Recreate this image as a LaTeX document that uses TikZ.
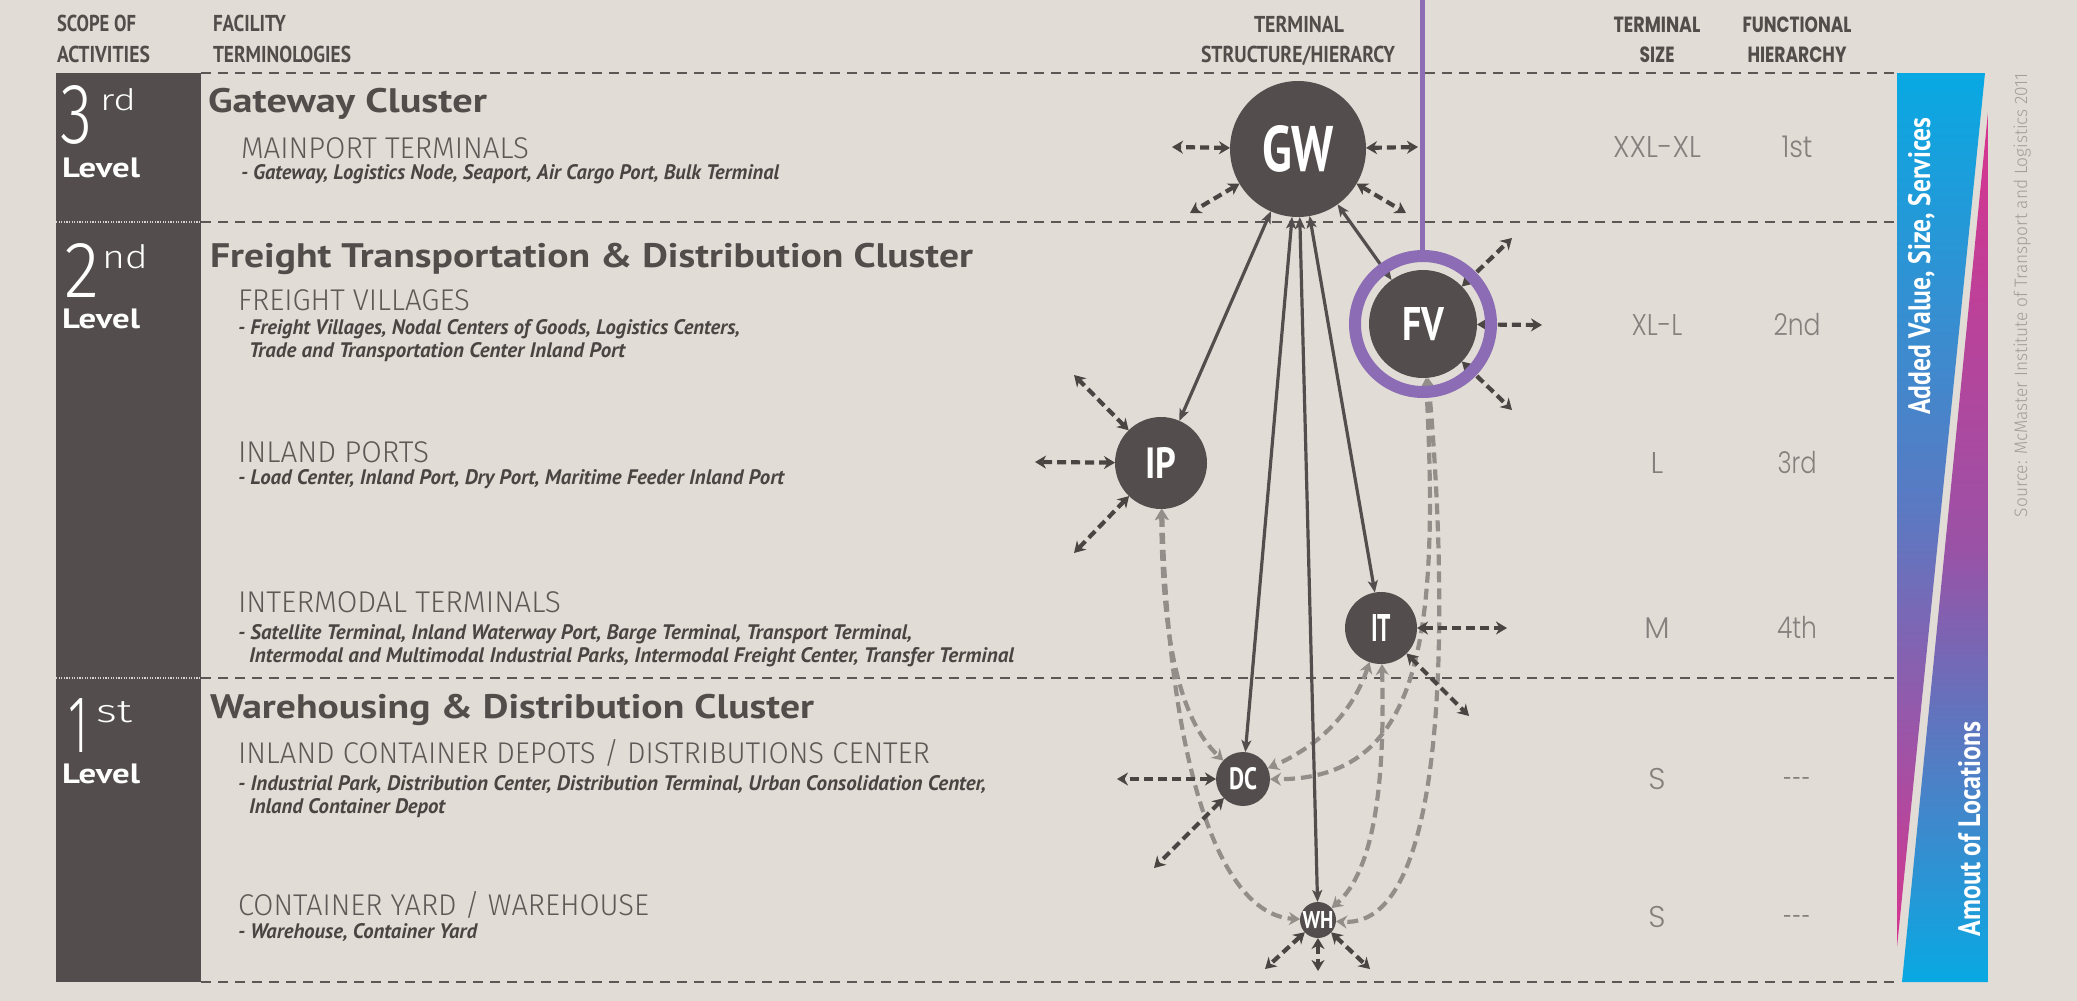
\documentclass[tikz,border=0pt]{standalone}
\usepackage{fontspec}
\usepackage{graphicx}
\setmainfont{PT Sans}
\newfontfamily\geofont{Poppins}
\newfontfamily\geolight{Poppins Light}
\newfontfamily\lightf{Fira Sans Light}
\usetikzlibrary{arrows.meta}
\definecolor{bgc}{HTML}{E1DDD6}
\definecolor{dkc}{HTML}{534E4D}
\definecolor{txc}{HTML}{524D4A}
\definecolor{ltc}{HTML}{5E5956}
\definecolor{itc}{HTML}{4A4542}
\definecolor{grc}{HTML}{938E8A}
\definecolor{colc}{HTML}{85807D}
\definecolor{purc}{HTML}{8C6CB4}
\definecolor{cyc}{HTML}{08A9E3}
\definecolor{midc}{HTML}{5B79C2}
\definecolor{pkc}{HTML}{D8338E}
\definecolor{puc}{HTML}{9A52A6}
\definecolor{rowc}{HTML}{5C5754}
\definecolor{srcc}{HTML}{A29D99}
\newcommand\myfw[2]{\resizebox{#1pt}{\height}{#2}}
\newcommand\mywh[3]{\resizebox{#1pt}{#2pt}{#3}}
\newcommand\myfs[1]{\fontsize{#1}{#1}\selectfont}
\begin{document}
\begin{tikzpicture}[x=1pt,y=-1pt,
  txt/.style={inner sep=0pt,outer sep=0pt},
  hdr/.style={txt,text=txc,font=\myfs{23}\bfseries},
  hdrr/.style={txt,anchor=base,text=txc,font=\geofont\myfs{22}\bfseries},
  ttl/.style={txt,anchor=base west,text=txc,font=\myfs{34}\bfseries},
  subh/.style={txt,anchor=base west,text=ltc,font=\lightf\myfs{30}},
  bul/.style={txt,anchor=base west,text=itc,font=\myfs{21}\bfseries\itshape},
  val/.style={txt,anchor=base,text=colc,font=\geolight\myfs{30}},
  lvl/.style={txt,anchor=base west,text=white,font=\myfs{28}\bfseries},
  num/.style={txt,anchor=base west,text=white,font=\lightf\myfs{40}},
  supx/.style={txt,anchor=base west,text=white,font=\lightf\myfs{24}},
  term/.style={circle,fill=dkc,inner sep=0pt,outer sep=0pt,text=white,font=\myfs{40}\bfseries},
  sarr/.style={draw=dkc,line width=3.2pt,>={Stealth[length=12pt,width=10pt,inset=3pt]},<->},
  darr/.style={draw=itc,line width=4.2pt,dash pattern=on 9pt off 5pt,>={Stealth[length=11pt,width=13pt,inset=3.5pt]},<->},
  garr/.style={draw=grc,line width=4.2pt,dash pattern=on 11pt off 6pt,>={Stealth[length=11pt,width=13pt,inset=3.5pt]},<->},
  rowdash/.style={draw=rowc,line width=2.2pt,dash pattern=on 10pt off 7pt},
  dotsep/.style={draw=white!75!dkc,line width=2.2pt,dash pattern=on 1.2pt off 1.4pt}
]
\fill[bgc] (0,0) rectangle (2077,1001);
\useasboundingbox (0,0) rectangle (2077,1001);

% left dark column
\fill[dkc] (56,73) rectangle (201,982);
\draw[dotsep] (56,222) -- (201,222);
\draw[dotsep] (56,678) -- (201,678);

% row separators
\foreach \yy in {73,222,678,982} \draw[rowdash] (201,\yy) -- (1897,\yy);

% gradient bar
\shade[top color=cyc,bottom color=pkc,middle color=midc] (1897,73) -- (1985,73) -- (1897,947) -- cycle;
\shade[top color=pkc,bottom color=cyc,middle color=puc] (1988,112) -- (1988,982) -- (1902,982) -- cycle;
\node[txt,rotate=90,anchor=base,text=white,font=\myfs{31}\bfseries] (bt1) at (1930,266) {\myfw{297}{Added Value, Size, Services}};
\node[txt,rotate=90,anchor=base,text=white,font=\myfs{31}\bfseries] (bt2) at (1980,829) {\myfw{215}{Amout of Locations}};
\node[txt,rotate=90,anchor=base,text=srcc,font=\lightf\myfs{18}] (src) at (2027,295) {\myfw{444}{Source: McMaster Institute of Transport and Logistics 2011}};

% headers
\node[hdr,anchor=base west] (h1) at (57,31) {\myfw{79}{SCOPE OF}};
\node[hdr,anchor=base west] (h2) at (57,62) {\myfw{93}{ACTIVITIES}};
\node[hdr,anchor=base west] (h3) at (213,31) {\myfw{73}{FACILITY}};
\node[hdr,anchor=base west] (h4) at (213,62) {\myfw{138}{TERMINOLOGIES}};
\node[hdr,anchor=base] (h5) at (1299,32) {\myfw{90}{TERMINAL}};
\node[hdr,anchor=base] (h6) at (1298,62) {\myfw{194}{STRUCTURE/HIERARCY}};
\node[hdrr] (h7) at (1657,32) {\myfw{87}{TERMINAL}};
\node[hdrr] (h8) at (1657,62) {\myfw{35}{SIZE}};
\node[hdrr] (h9) at (1797,32) {\myfw{109}{FUNCTIONAL}};
\node[hdrr] (h10) at (1797,62) {\myfw{99}{HIERARCHY}};

% level labels
\node[num] (n3) at (60,143) {\mywh{32}{58}{3}};
\node[supx] (s3) at (100,110) {\mywh{36}{22}{rd}};
\node[lvl] (l3) at (62,177) {\myfw{78}{Level}};
\node[num] (n2) at (64,297) {\mywh{35}{54}{2}};
\node[supx] (s2) at (102,268) {\mywh{46}{24}{nd}};
\node[lvl] (l2) at (62,328) {\myfw{78}{Level}};
\node[num] (n1) at (68,752) {\mywh{20}{54}{1}};
\node[supx] (s1) at (96,722) {\mywh{36}{21}{st}};
\node[lvl] (l1) at (62,783) {\myfw{78}{Level}};

% cluster titles
\node[ttl] (c1) at (208,112) {\myfw{279}{Gateway Cluster}};
\node[ttl] (c2) at (210,267) {\myfw{763}{Freight Transportation \& Distribution Cluster}};
\node[ttl] (c3) at (210,718) {\myfw{604}{Warehousing \& Distribution Cluster}};

% sub headings
\node[subh] (t1) at (241,158) {\myfw{288}{MAINPORT TERMINALS}};
\node[subh] (t2) at (238,310) {\myfw{232}{FREIGHT VILLAGES}};
\node[subh] (t3) at (238,462) {\myfw{191}{INLAND PORTS}};
\node[subh] (t4) at (238,612) {\myfw{323}{INTERMODAL TERMINALS}};
\node[subh] (t5) at (238,763) {\myfw{692}{INLAND CONTAINER DEPOTS / DISTRIBUTIONS CENTER}};
\node[subh] (t6) at (238,915) {\myfw{411}{CONTAINER YARD / WAREHOUSE}};

% bullet lists
\node[bul] (b1) at (241,179) {\myfw{538}{- Gateway, Logistics Node, Seaport, Air Cargo Port, Bulk Terminal}};
\node[bul] (b2) at (238,334) {\myfw{502}{- Freight Villages, Nodal Centers of Goods, Logistics Centers,}};
\node[bul] (b3) at (249,357) {\myfw{376}{Trade and Transportation Center Inland Port}};
\node[bul] (b4) at (238,484) {\myfw{546}{- Load Center, Inland Port, Dry Port, Maritime Feeder Inland Port}};
\node[bul] (b5) at (238,639) {\myfw{674}{- Satellite Terminal, Inland Waterway Port, Barge Terminal, Transport Terminal,}};
\node[bul] (b6) at (249,662) {\myfw{765}{Intermodal and Multimodal Industrial Parks, Intermodal Freight Center, Transfer Terminal}};
\node[bul] (b7) at (238,790) {\myfw{748}{- Industrial Park, Distribution Center, Distribution Terminal, Urban Consolidation Center,}};
\node[bul] (b8) at (249,813) {\myfw{196}{Inland Container Depot}};
\node[bul] (b9) at (238,938) {\myfw{239}{- Warehouse, Container Yard}};

% size / hierarchy columns
\node[val] (v1) at (1657,157) {\myfw{88}{XXL-XL}};
\node[val] (v2) at (1657,335) {\myfw{51}{XL-L}};
\node[val] (v3) at (1657,473) {L};
\node[val] (v4) at (1657,638) {M};
\node[val] (v5) at (1657,789) {S};
\node[val] (v6) at (1657,927) {S};
\node[val] (f1) at (1797,157) {\myfw{31}{1st}};
\node[val] (f2) at (1797,335) {\myfw{47}{2nd}};
\node[val] (f3) at (1797,473) {\myfw{39}{3rd}};
\node[val] (f4) at (1797,638) {\myfw{40}{4th}};
\node[val] (f5) at (1797,789) {\myfw{27}{-\kern2pt-\kern2pt-}};
\node[val] (f6) at (1797,927) {\myfw{27}{-\kern2pt-\kern2pt-}};

% terminals
\node[term,minimum size=136pt] (gw) at (1298,149) {\mywh{72}{46}{GW}};
\node[term,minimum size=108pt] (fv) at (1423,324) {\mywh{42}{33}{FV}};
\node[term,minimum size=92pt] (ip) at (1161,463) {\mywh{31}{31}{IP}};
\node[term,minimum size=72pt] (it) at (1381,628) {\mywh{20}{27}{IT}};
\node[term,minimum size=54pt] (dc) at (1243,779) {\mywh{28}{22}{DC}};
\node[term,minimum size=36pt] (wh) at (1318,920) {\mywh{31}{17}{WH}};

% free ends
\coordinate (gwL) at (1172,147);
\coordinate (gwR) at (1418,147);
\coordinate (gwLL) at (1190,213);
\coordinate (gwLR) at (1406,213);
\coordinate (fvUR) at (1512,238);
\coordinate (fvR) at (1542,325);
\coordinate (fvLR) at (1512,410);
\coordinate (ipUL) at (1074,375);
\coordinate (ipL) at (1035,462);
\coordinate (ipLL) at (1074,553);
\coordinate (itR) at (1507,628);
\coordinate (itLR) at (1469,716);
\coordinate (dcL) at (1117,779);
\coordinate (dcLL) at (1154,868);
\coordinate (whA) at (1265,969);
\coordinate (whB) at (1318,971);
\coordinate (whC) at (1370,969);

% grey dashed links
\draw[garr] (ip) .. controls (1162,640) and (1180,720) .. (dc);
\draw[garr] (ip) .. controls (1168,750) and (1215,915) .. (wh);
\draw[garr] (fv) .. controls (1445,560) and (1458,930) .. (wh);
\draw[garr] (fv) .. controls (1440,640) and (1420,780) .. (dc);
\draw[garr] (it) .. controls (1350,720) and (1310,750) .. (dc);
\draw[garr] (it) .. controls (1385,780) and (1375,870) .. (wh);

% solid links from gateway
\draw[sarr] (gw) -- (ip);
\draw[sarr] (gw) -- (dc);
\draw[sarr] (gw) -- (wh);
\draw[sarr] (gw) -- (it);
\draw[sarr] (gw) -- (fv);

% dark dashed outward links
\draw[darr] (gw) -- (gwL);
\draw[darr] (gw) -- (gwR);
\draw[darr] (gw) -- (gwLL);
\draw[darr] (gw) -- (gwLR);
\draw[darr] (fv) -- (fvUR);
\draw[darr] (fv) -- (fvR);
\draw[darr] (fv) -- (fvLR);
\draw[darr] (ip) -- (ipUL);
\draw[darr] (ip) -- (ipL);
\draw[darr] (ip) -- (ipLL);
\draw[darr] (it) -- (itR);
\draw[darr] (it) -- (itLR);
\draw[darr] (dc) -- (dcL);
\draw[darr] (dc) -- (dcLL);
\draw[darr] (wh) -- (whA);
\draw[darr] (wh) -- (whB);
\draw[darr] (wh) -- (whC);

% purple highlight
\coordinate (ptop) at (1422,0);
\coordinate (pbot) at (1422,257);
\draw[purc,line width=12pt] (fv.center) circle[radius=68pt];
\draw[purc,line width=5pt] (ptop) -- (pbot);
\end{tikzpicture}
\end{document}
